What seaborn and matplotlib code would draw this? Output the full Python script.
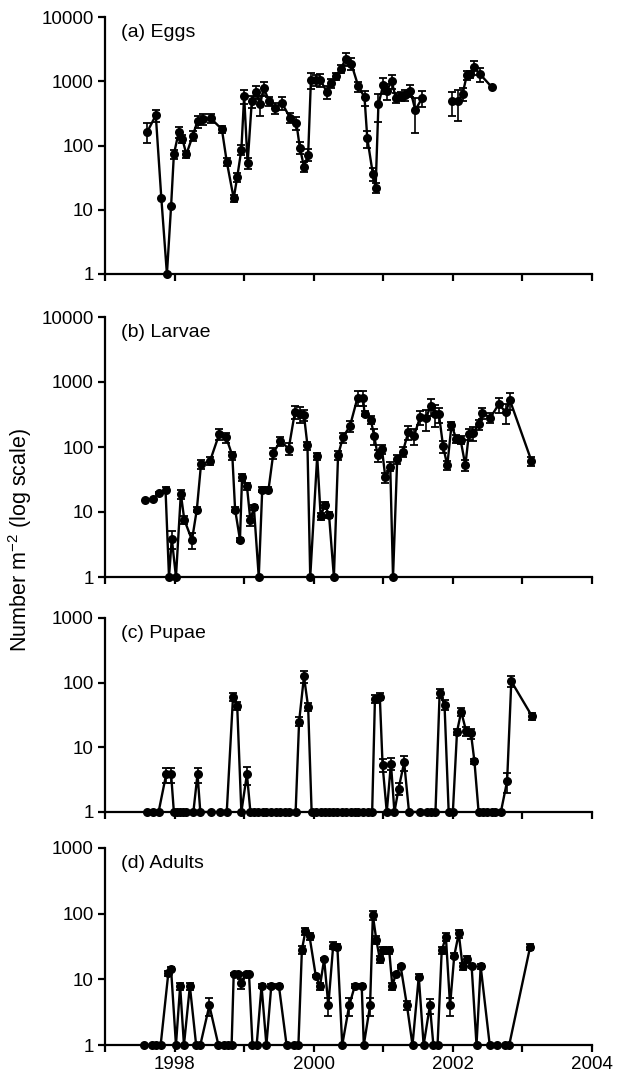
import numpy as np
import pandas as pd
import matplotlib
matplotlib.use("Agg")
import matplotlib.pyplot as plt
import seaborn as sns

# ---------------- data ----------------
eggs_dates = [1997.61, 1997.73, 1997.81, 1997.89, 1997.95, 1997.99, 1998.06, 1998.11, 1998.17, 1998.26,
              1998.33, 1998.41, 1998.52, 1998.68, 1998.75, 1998.85, 1998.90, 1998.96, 1999.00, 1999.05,
              1999.11, 1999.17, 1999.23, 1999.28, 1999.36, 1999.44, 1999.54, 1999.66, 1999.75, 1999.80,
              1999.86, 1999.92, 1999.96, 2000.03, 2000.09, 2000.19, 2000.25, 2000.32, 2000.39, 2000.46,
              2000.54, 2000.64, 2000.73, 2000.77, 2000.85, 2000.89, 2000.93, 2001.00, 2001.05, 2001.12,
              2001.18, 2001.25, 2001.31, 2001.39, 2001.46, 2001.56, 2001.78, 2001.99, 2002.07, 2002.14,
              2002.20, 2002.24, 2002.30, 2002.39, 2002.56]
eggs_vals = [165, 295, 15, 1, 11.4, 73, 163, 128, 73, 141,
             240, 256, 265, 179, 56, 15, 32, 86, 586, 53,
             490, 683, 435, 790, 490, 385, 462, 271, 227, 93,
             47, 72, 1060, 1036, 1060, 683, 940, 1200, 1560, 2230,
             1880, 840, 565, 130, 36, 22, 435, 885, 717, 1000,
             552, 590, 620, 717, 356, 552, np.nan, 490, 490, 635,
             1235, 1290, 1650, 1290, 810]
eggs_se = [55, 60, 0, 0, 0, 12, 30, 20, 10, 25,
           50, 50, 40, 25, 8, 2, 5, 15, 150, 10,
           100, 150, 150, 200, 80, 80, 100, 50, 50, 20,
           8, 15, 300, 200, 250, 150, 150, 150, 200, 500,
           400, 150, 150, 40, 8, 4, 200, 250, 200, 250,
           100, 100, 120, 150, 200, 150, 0, 200, 250, 150,
           200, 150, 400, 300, 0]

larvae_dates = [1997.575, 1997.69, 1997.78, 1997.87, 1997.92, 1997.96, 1998.02, 1998.09, 1998.14, 1998.25,
                1998.32, 1998.38, 1998.51, 1998.64, 1998.74, 1998.83, 1998.87, 1998.94, 1998.97, 1999.04,
                1999.09, 1999.14, 1999.21, 1999.26, 1999.35, 1999.42, 1999.52, 1999.64, 1999.73, 1999.80,
                1999.86, 1999.91, 1999.95, 2000.05, 2000.10, 2000.16, 2000.22, 2000.29, 2000.35, 2000.42,
                2000.52, 2000.63, 2000.71, 2000.73, 2000.82, 2000.87, 2000.92, 2000.98, 2001.03, 2001.10,
                2001.14, 2001.20, 2001.28, 2001.36, 2001.44, 2001.53, 2001.61, 2001.68, 2001.75, 2001.80,
                2001.86, 2001.92, 2001.98, 2002.05, 2002.11, 2002.18, 2002.23, 2002.29, 2002.37, 2002.42,
                2002.54, 2002.66, 2002.76, 2002.82, 2003.13]
larvae_vals = [15.5, 15.7, 19.6, 22, 1, 3.9, 1, 19, 7.6, 3.7,
               10.9, 54, 61, 156, 142, 74, 10.9, 3.75, 34, 25,
               7.4, 11.9, 1, 22, 22, 81, 124, 94, 345, 325,
               308, 106, 1, 72, 8.6, 13, 9, 1, 74, 142,
               208, 575, 575, 325, 264, 146, 74, 94, 34, 50,
               1, 65, 84, 170, 146, 290, 275, 424, 325, 318,
               102, 52, 215, 134, 130, 52, 160, 165, 224, 333,
               283, 455, 345, 525, 61]
larvae_se = [0, 0, 1, 2, 0, 1.2, 0, 3, 1, 1,
             1, 8, 8, 30, 25, 10, 1, 0.3, 4, 3,
             1.3, 1, 0, 2, 2, 15, 20, 20, 80, 90,
             60, 15, 0, 10, 1, 1.5, 1, 0, 12, 25,
             40, 150, 150, 30, 40, 40, 15, 15, 6, 8,
             0, 10, 15, 40, 40, 70, 100, 120, 120, 80,
             20, 8, 30, 20, 20, 10, 30, 40, 40, 60,
             50, 120, 120, 150, 10]

pupae_dates = [1997.60, 1997.69, 1997.77, 1997.88, 1997.95, 1997.99, 1998.03, 1998.08, 1998.12, 1998.17,
               1998.27, 1998.33, 1998.37, 1998.53, 1998.65, 1998.75, 1998.84, 1998.90, 1998.96, 1999.04,
               1999.09, 1999.14, 1999.20, 1999.27, 1999.32, 1999.39, 1999.46, 1999.51, 1999.59, 1999.65,
               1999.74, 1999.79, 1999.86, 1999.92, 1999.97, 2000.04, 2000.10, 2000.16, 2000.22, 2000.28,
               2000.34, 2000.40, 2000.46, 2000.53, 2000.59, 2000.64, 2000.71, 2000.78, 2000.84, 2000.88,
               2000.95, 2000.99, 2001.05, 2001.11, 2001.16, 2001.22, 2001.30, 2001.37, 2001.53, 2001.63,
               2001.69, 2001.75, 2001.81, 2001.88, 2001.94, 2002.00, 2002.06, 2002.12, 2002.19, 2002.26,
               2002.31, 2002.37, 2002.43, 2002.49, 2002.56, 2002.60, 2002.69, 2002.78, 2002.84, 2003.14]
pupae_vals = [1, 1, 1, 3.85, 3.85, 1, 1, 1, 1, 1,
              1, 3.85, 1, 1, 1, 1, 60, 44, 1, 3.85,
              1, 1, 1, 1, 1, 1, 1, 1, 1, 1,
              1, 25, 125, 42, 1, 1, 1, 1, 1, 1,
              1, 1, 1, 1, 1, 1, 1, 1, 1, 56,
              61, 5.3, 1, 5.6, 1, 2.3, 5.85, 1, 1, 1,
              1, 1, 69, 45.7, 1, 1, 17.5, 35.7, 17.9, 16.5,
              6.1, 1, 1, 1, 1, 1, 1, 3.0, 105, 30]
pupae_se = [0, 0, 0, 1, 1, 0, 0, 0, 0, 0,
            0, 1, 0, 0, 0, 0, 8, 6, 0, 1.2,
            0, 0, 0, 0, 0, 0, 0, 0, 0, 0,
            0, 4, 25, 6, 0, 0, 0, 0, 0, 0,
            0, 0, 0, 0, 0, 0, 0, 0, 0, 8,
            8, 1.2, 0, 1.2, 0, 0.5, 1.5, 0, 0, 0,
            0, 0, 12, 8, 0, 0, 2, 5, 3, 3,
            0.5, 0, 0, 0, 0, 0, 0, 1, 20, 4]

adults_dates = [1997.565, 1997.68, 1997.74, 1997.80, 1997.91, 1997.95, 1998.02, 1998.08, 1998.135, 1998.22,
                1998.31, 1998.37, 1998.50, 1998.63, 1998.71, 1998.77, 1998.82, 1998.85, 1998.91, 1998.96,
                1999.02, 1999.07, 1999.12, 1999.18, 1999.25, 1999.32, 1999.39, 1999.50, 1999.61, 1999.72,
                1999.78, 1999.83, 1999.88, 1999.94, 2000.03, 2000.09, 2000.15, 2000.21, 2000.28, 2000.34,
                2000.41, 2000.51, 2000.59, 2000.69, 2000.72, 2000.81, 2000.85, 2000.90, 2000.95, 2001.00,
                2001.085, 2001.13, 2001.18, 2001.25, 2001.34, 2001.42, 2001.51, 2001.58, 2001.67, 2001.72,
                2001.78, 2001.84, 2001.90, 2001.96, 2002.02, 2002.085, 2002.14, 2002.20, 2002.27, 2002.34,
                2002.40, 2002.53, 2002.63, 2002.75, 2002.81, 2003.11]
adults_vals = [1, 1, 1, 1, 12.4, 14.2, 1, 7.9, 1, 7.9,
               1, 1, 4.0, 1, 1, 1, 1, 12.1, 12.1, 8.7,
               12.1, 12.1, 1, 1, 7.9, 1, 7.9, 7.9, 1, 1,
               1, 28, 54, 45, 11.2, 7.9, 20.3, 4.0, 32.5, 31,
               1, 4.0, 7.9, 7.9, 1, 4.0, 94, 40, 20.3, 27.6,
               27.6, 7.9, 12.1, 15.7, 4.0, 1, 11, 1, 4.0, 1,
               1, 27.6, 44, 4.0, 22.8, 50, 15.7, 20.3, 15.7, 1,
               15.7, 1, 1, 1, 1, 31]
adults_se = [0, 0, 0, 0, 1, 1, 0, 1, 0, 1,
             0, 0, 1.2, 0, 0, 0, 0, 0.5, 0.5, 1.5,
             0.5, 0.5, 0, 0, 0.5, 0, 0.5, 0.5, 0, 0,
             0, 4, 6, 5, 0.5, 1, 0.5, 1.2, 4, 3,
             0, 1.2, 0.5, 0.5, 0, 1.2, 15, 5, 2.5, 3,
             3, 1, 0.5, 1, 0.6, 0, 1, 0, 1.0, 0,
             0, 3, 6, 1.2, 2, 7, 2, 2, 1, 0,
             1.5, 0, 0, 0, 0, 3]

panel_titles = ["(a) Eggs", "(b) Larvae", "(c) Pupae", "(d) Adults"]
panel_ytop = [10000, 10000, 1000, 1000]
year_ticks = [1997, 1998, 1999, 2000, 2001, 2002, 2003, 2004]
year_labels = ["", "1998", "", "2000", "", "2002", "", "2004"]
ylabel = "Number m$^{-2}$ (log scale)"

# ---------------- style ----------------
sns.set_theme(style="ticks")
plt.rcParams["font.family"] = ["Liberation Sans", "DejaVu Sans"]
plt.rcParams["mathtext.fontset"] = "custom"
plt.rcParams["mathtext.rm"] = "Liberation Sans"
plt.rcParams["mathtext.it"] = "Liberation Sans:italic"
plt.rcParams["text.color"] = "black"
plt.rcParams["axes.labelcolor"] = "black"
plt.rcParams["xtick.color"] = "black"
plt.rcParams["ytick.color"] = "black"

fig = plt.figure(figsize=(6.2, 10.78), dpi=100)
W, H = 620, 1078
left_px, right_px = 105, 592
panel_px = [(17, 274), (317, 577), (618, 812), (848, 1045)]

series = [
    (eggs_dates, eggs_vals, eggs_se),
    (larvae_dates, larvae_vals, larvae_se),
    (pupae_dates, pupae_vals, pupae_se),
    (adults_dates, adults_vals, adults_se),
]

for i, ((top, bot), (d, v, e)) in enumerate(zip(panel_px, series)):
    ax = fig.add_axes([left_px / W, 1 - bot / H, (right_px - left_px) / W, (bot - top) / H])
    df = pd.DataFrame({"date": d, "value": v, "se": e})
    df["seg"] = df["value"].isna().cumsum()
    df = df.dropna()
    sns.lineplot(data=df, x="date", y="value", units="seg", estimator=None, sort=False,
                 color="black", linewidth=1.7, marker="o", markersize=6.5,
                 markeredgecolor="black", markeredgewidth=0, ax=ax, clip_on=False, zorder=3)
    eb = df[df["se"] > 0]
    ax.errorbar(eb["date"], eb["value"], yerr=eb["se"], fmt="none", ecolor="black",
                elinewidth=1.2, capsize=3, capthick=1.3, zorder=2, clip_on=False)
    ax.set_yscale("log")
    ax.set_ylim(1, panel_ytop[i])
    ax.set_xlim(1997, 2004)
    yt = [10 ** k for k in range(int(np.log10(panel_ytop[i])) + 1)]
    ax.set_yticks(yt)
    ax.set_yticklabels([str(t) for t in yt])
    ax.yaxis.set_minor_locator(matplotlib.ticker.NullLocator())
    ax.set_xticks(year_ticks)
    if i == 3:
        ax.set_xticklabels(year_labels)
    else:
        ax.set_xticklabels([""] * len(year_ticks))
    ax.set_xlabel("")
    ax.set_ylabel("")
    for s in ["top", "right"]:
        ax.spines[s].set_visible(False)
    for s in ["left", "bottom"]:
        ax.spines[s].set_linewidth(1.6)
        ax.spines[s].set_color("black")
    ax.tick_params(axis="both", direction="out", length=5, width=1.6, colors="black",
                   labelsize=13.5, pad=3)
    ax.annotate(panel_titles[i], xy=(0, 1), xycoords="axes fraction",
                xytext=(11.5, -11), textcoords="offset points",
                ha="left", va="center", fontsize=14, color="black")
    ax.set_facecolor("white")

fig.text(20 / W, 1 - 540 / H, ylabel, rotation=90, ha="center", va="center",
         fontsize=15.5, color="black")
fig.savefig("out.png", dpi=100, facecolor="white")
